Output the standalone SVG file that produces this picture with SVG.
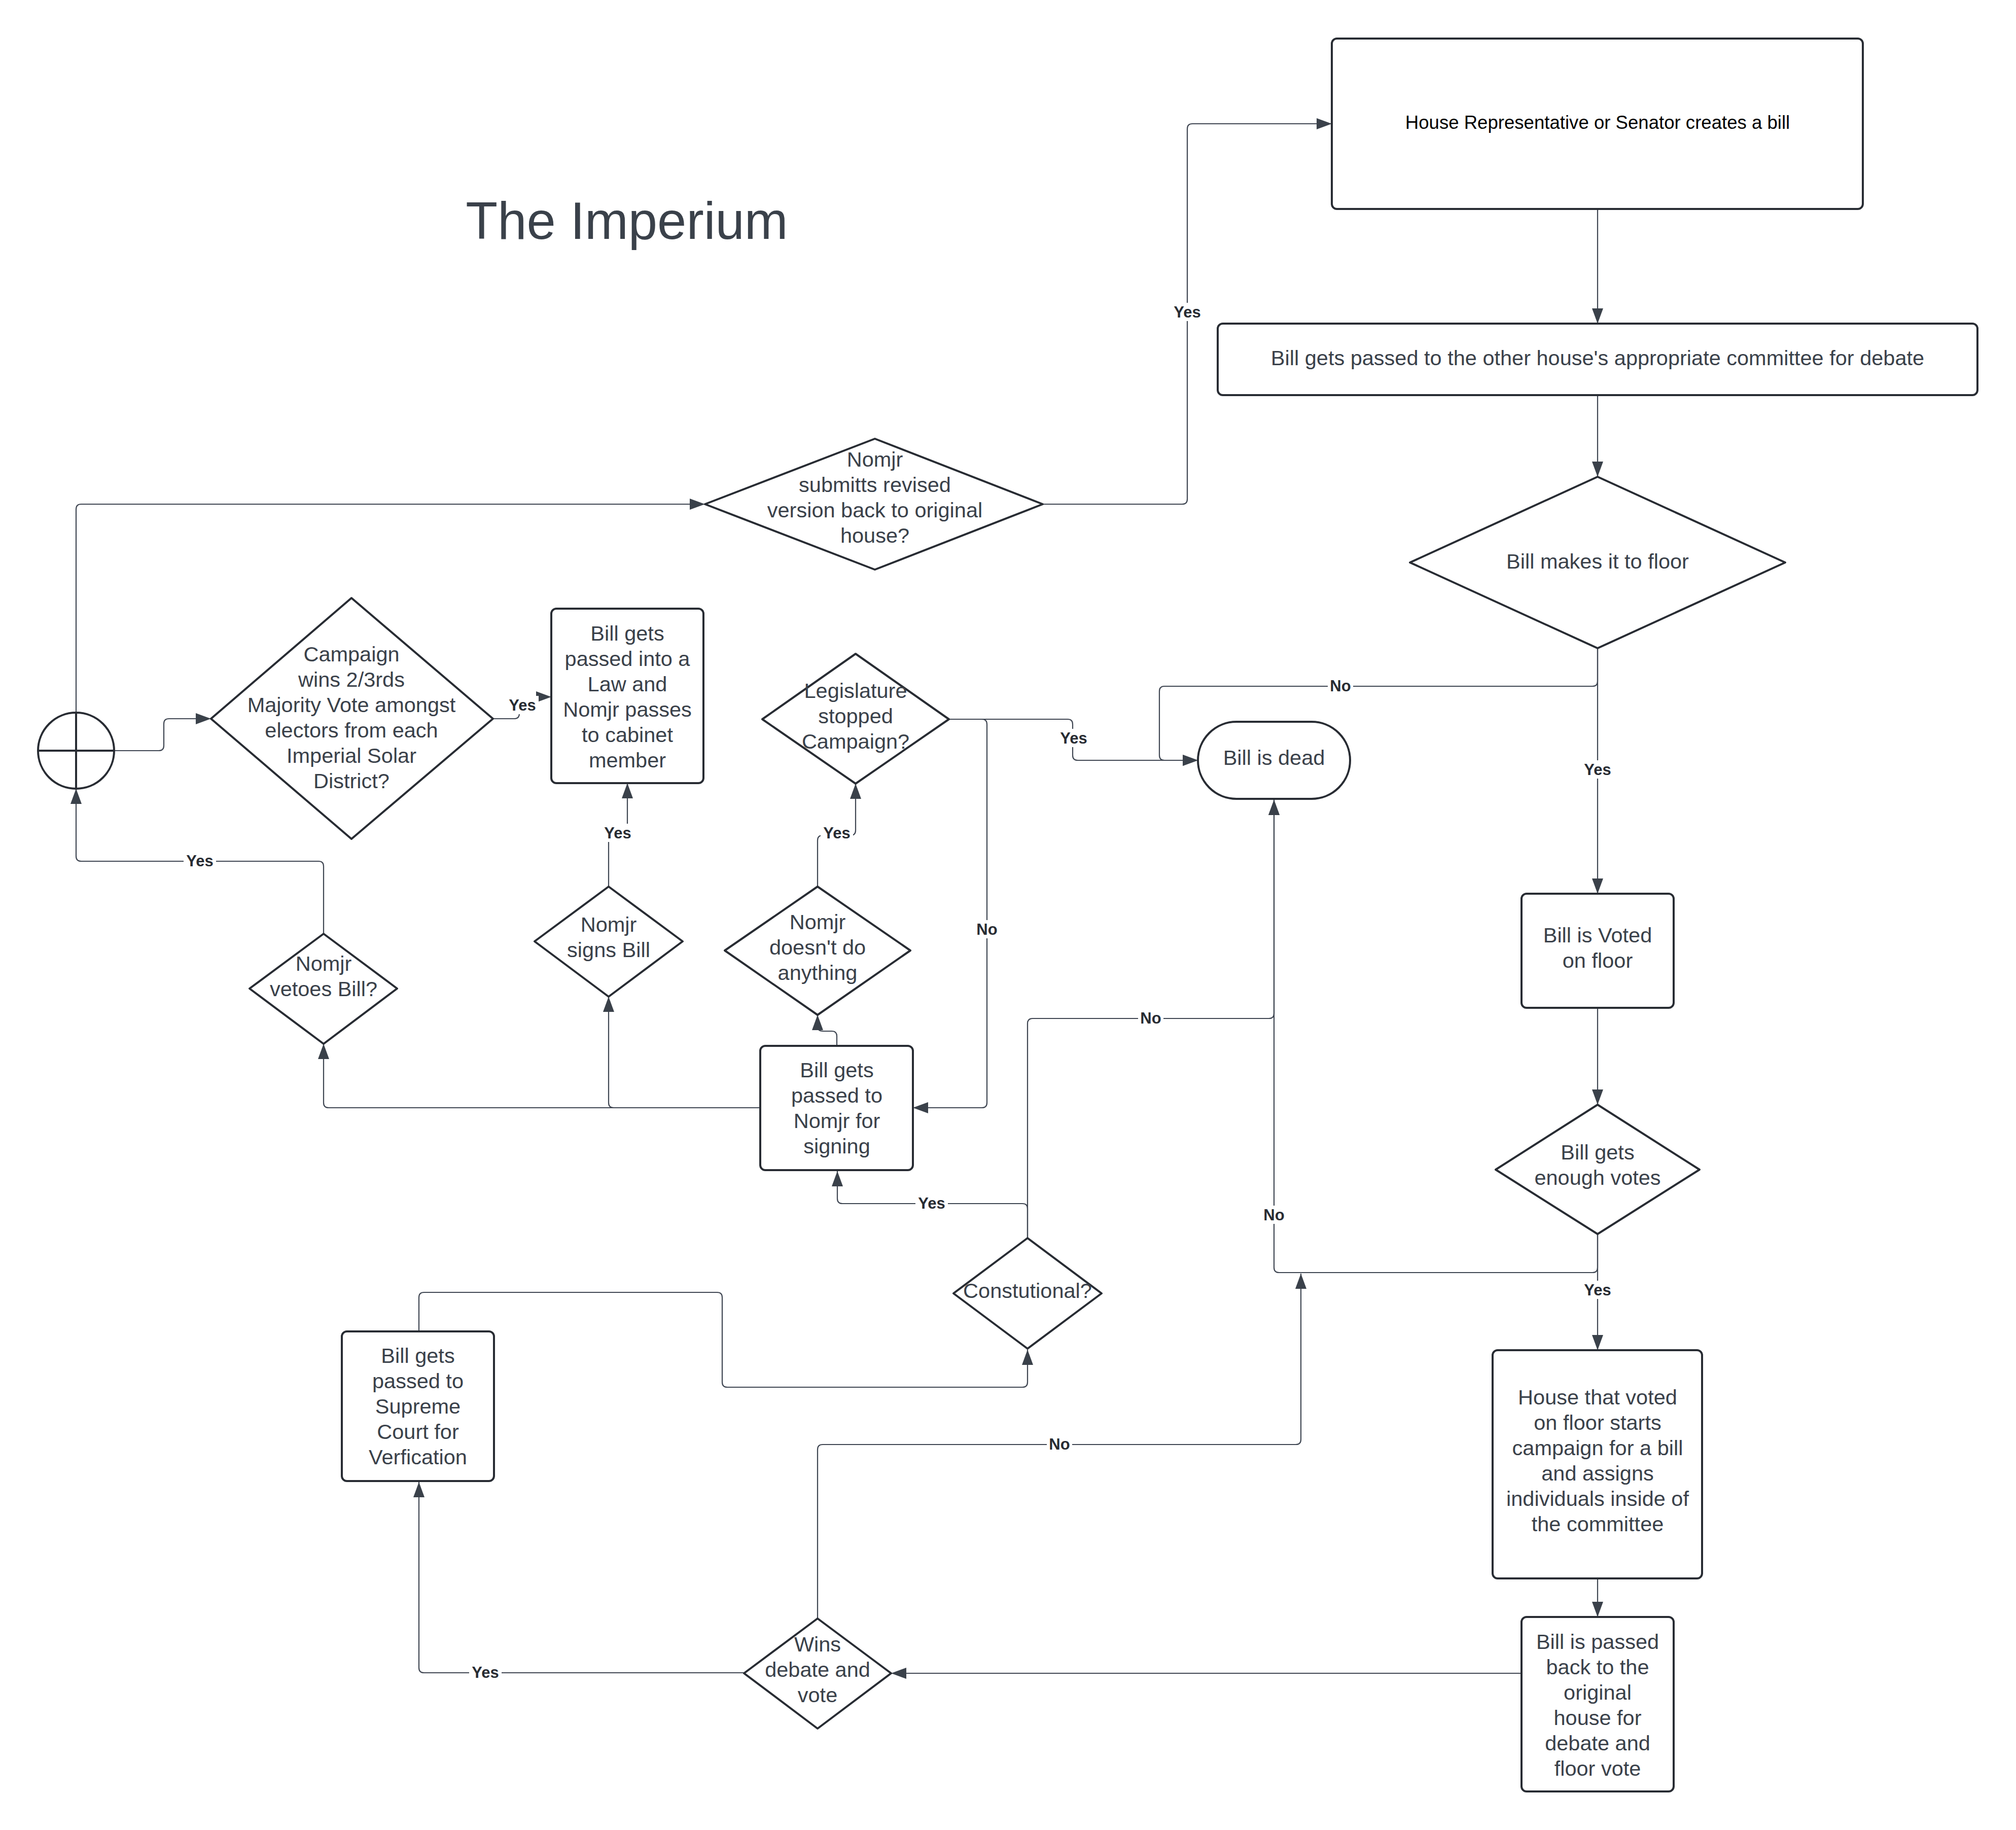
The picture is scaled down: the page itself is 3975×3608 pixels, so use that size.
<svg xmlns="http://www.w3.org/2000/svg" width="3975" height="3608" viewBox="0 0 3975 3608">
<style>
.shape{fill:#ffffff;stroke:#282c33;stroke-width:4;stroke-linejoin:round}
.t{font-family:"Liberation Sans",Arial,sans-serif;font-size:41.5px;fill:#3a414a;text-anchor:middle}
.conn{fill:none;stroke:#3f4652;stroke-width:2.2;marker-end:url(#arr)}
.lbg{fill:#ffffff}
.lbl{font-family:"Liberation Sans",Arial,sans-serif;font-size:31px;font-weight:700;fill:#282c33;text-anchor:middle}
</style>
<defs>
<marker id="arr" viewBox="0 0 30 22" refX="30" refY="11" markerWidth="30" markerHeight="22" markerUnits="userSpaceOnUse" orient="auto">
<path d="M0,0 L30,11 L0,22 z" fill="#3a414a"/>
</marker>
</defs>
<rect width="3975" height="3608" fill="#ffffff"/>
<text x="1236" y="471" style="font-family:'Liberation Sans',Arial,sans-serif;font-size:103px;fill:#3a414a;text-anchor:middle">The Imperium</text>

<g id="connectors">
<path class="conn" d="M3150,412 V638"/>
<path class="conn" d="M3150,779 V940"/>
<path class="conn" d="M3150,1278 V1762"/>
<path class="conn" d="M3150,1278 V1343 Q3150,1353 3140,1353 H2296 Q2286,1353 2286,1363 V1489 Q2286,1499 2296,1499 H2362"/>
<path class="conn" d="M3150,1987 V2178"/>
<path class="conn" d="M3150,2433 V2662"/>
<path class="conn" d="M3150,2433 V2499 Q3150,2509 3140,2509 H2522 Q2512,2509 2512,2499 V1577"/>
<path class="conn" d="M3150,3112 V3188"/>
<path class="conn" d="M3000,3299 H1757"/>
<path class="conn" d="M1467,3298 H836 Q826,3298 826,3288 V2922"/>
<path class="conn" d="M1612,3191 V2858 Q1612,2848 1622,2848 H2555 Q2565,2848 2565,2838 V2511"/>
<path class="conn" d="M826,2625 V2558 Q826,2548 836,2548 H1414 Q1424,2548 1424,2558 V2725 Q1424,2735 1434,2735 H2016 Q2026,2735 2026,2725 V2661"/>
<path class="conn" d="M2026,2441 V2383 Q2026,2373 2016,2373 H1661 Q1651,2373 1651,2363 V2309"/>
<path class="conn" d="M2026,2441 V2018 Q2026,2008 2036,2008 H2502 Q2512,2008 2512,1998 V1577"/>
<path class="conn" d="M1650,2062 V2043 Q1650,2033 1640,2033 H1622 Q1612,2033 1612,2023 V2001"/>
<path class="conn" d="M1612,1748 V1657 Q1612,1647 1622,1647 H1677 Q1687,1647 1687,1637 V1545"/>
<path class="conn" d="M1871,1418 H2105 Q2115,1418 2115,1428 V1489 Q2115,1499 2125,1499 H2362"/>
<path class="conn" d="M1871,1418 H1936 Q1946,1418 1946,1428 V2174 Q1946,2184 1936,2184 H1800"/>
<path class="conn" d="M1499,2184 H1210 Q1200,2184 1200,2174 V1965"/>
<path class="conn" d="M1499,2184 H648 Q638,2184 638,2174 V2058"/>
<path class="conn" d="M1200,1748 V1652 Q1200,1642 1210,1642 H1227 Q1237,1642 1237,1632 V1544"/>
<path class="conn" d="M638,1841 V1708 Q638,1698 628,1698 H160 Q150,1698 150,1688 V1555"/>
<path class="conn" d="M225,1480 H313 Q323,1480 323,1470 V1427 Q323,1417 333,1417 H416"/>
<path class="conn" d="M972,1417 H1014 Q1024,1417 1024,1407 V1384 Q1024,1374 1034,1374 H1087"/>
<path class="conn" d="M150,1405 V1004 Q150,994 160,994 H1390"/>
<path class="conn" d="M2056,994 H2331 Q2341,994 2341,984 V254 Q2341,244 2351,244 H2626"/>
<g id="labels">
<rect class="lbg" x="2309" y="597" width="64" height="36"/><text class="lbl" x="2341" y="626">Yes</text>
<rect class="lbg" x="3118" y="1499" width="64" height="36"/><text class="lbl" x="3150" y="1528">Yes</text>
<rect class="lbg" x="2618" y="1334" width="50" height="36"/><text class="lbl" x="2643" y="1363">No</text>
<rect class="lbg" x="3118" y="2525" width="64" height="36"/><text class="lbl" x="3150" y="2554">Yes</text>
<rect class="lbg" x="2487" y="2377" width="50" height="36"/><text class="lbl" x="2512" y="2406">No</text>
<rect class="lbg" x="925" y="3279" width="64" height="36"/><text class="lbl" x="957" y="3308">Yes</text>
<rect class="lbg" x="2064" y="2829" width="50" height="36"/><text class="lbl" x="2089" y="2858">No</text>
<rect class="lbg" x="1805" y="2354" width="64" height="36"/><text class="lbl" x="1837" y="2383">Yes</text>
<rect class="lbg" x="2244" y="1989" width="50" height="36"/><text class="lbl" x="2269" y="2018">No</text>
<rect class="lbg" x="1618" y="1624" width="64" height="36"/><text class="lbl" x="1650" y="1653">Yes</text>
<rect class="lbg" x="2085" y="1437" width="64" height="36"/><text class="lbl" x="2117" y="1466">Yes</text>
<rect class="lbg" x="1921" y="1814" width="50" height="36"/><text class="lbl" x="1946" y="1843">No</text>
<rect class="lbg" x="1186" y="1624" width="64" height="36"/><text class="lbl" x="1218" y="1653">Yes</text>
<rect class="lbg" x="362" y="1679" width="64" height="36"/><text class="lbl" x="394" y="1708">Yes</text>
<rect class="lbg" x="998" y="1372" width="64" height="36"/><text class="lbl" x="1030" y="1401">Yes</text>
</g>
</g>

<g id="nodeA">
<rect class="shape" x="2626" y="76" width="1047" height="336" rx="10"/>
<text class="t" x="3150" y="254" style="font-size:36.6px;fill:#000000">House Representative or Senator creates a bill</text>
</g>
<g id="nodeB">
<rect class="shape" x="2401" y="638" width="1498" height="141" rx="10"/>
<text class="t" x="3150" y="720">Bill gets passed to the other house's appropriate committee for debate</text>
</g>
<g id="nodeC">
<polygon class="shape" points="3150,940 3520,1109 3150,1278 2780,1109"/>
<text class="t" x="3150" y="1121">Bill makes it to floor</text>
</g>
<g id="nodeD">
<rect class="shape" x="2362" y="1423" width="300" height="152" rx="76"/>
<text class="t" x="2512" y="1508">Bill is dead</text>
</g>
<g id="nodeE">
<rect class="shape" x="3000" y="1762" width="300" height="225" rx="10"/>
<text class="t" x="3150" y="1858">Bill is Voted</text>
<text class="t" x="3150" y="1908">on floor</text>
</g>
<g id="nodeF">
<polygon class="shape" points="3150,2178 3351,2306 3150,2433 2949,2306"/>
<text class="t" x="3150" y="2286">Bill gets</text>
<text class="t" x="3150" y="2336">enough votes</text>
</g>
<g id="nodeG">
<rect class="shape" x="2943" y="2662" width="413" height="450" rx="10"/>
<text class="t" x="3150" y="2769">House that voted</text>
<text class="t" x="3150" y="2819">on floor starts</text>
<text class="t" x="3150" y="2869">campaign for a bill</text>
<text class="t" x="3150" y="2919">and assigns</text>
<text class="t" x="3150" y="2969">individuals inside of</text>
<text class="t" x="3150" y="3019">the committee</text>
</g>
<g id="nodeH">
<rect class="shape" x="3000" y="3188" width="300" height="344" rx="10"/>
<text class="t" x="3150" y="3251">Bill is passed</text>
<text class="t" x="3150" y="3301">back to the</text>
<text class="t" x="3150" y="3351">original</text>
<text class="t" x="3150" y="3401">house for</text>
<text class="t" x="3150" y="3451">debate and</text>
<text class="t" x="3150" y="3501">floor vote</text>
</g>
<g id="nodeI">
<polygon class="shape" points="1612,3191 1757,3299 1612,3408 1467,3299"/>
<text class="t" x="1612" y="3256">Wins</text>
<text class="t" x="1612" y="3306">debate and</text>
<text class="t" x="1612" y="3356">vote</text>
</g>
<g id="nodeJ">
<rect class="shape" x="674" y="2625" width="300" height="295" rx="10"/>
<text class="t" x="824" y="2687">Bill gets</text>
<text class="t" x="824" y="2737">passed to</text>
<text class="t" x="824" y="2787">Supreme</text>
<text class="t" x="824" y="2837">Court for</text>
<text class="t" x="824" y="2887">Verfication</text>
</g>
<g id="nodeK">
<polygon class="shape" points="2026,2441 2172,2550 2026,2659 1880,2550"/>
<text class="t" x="2026" y="2559">Constutional?</text>
</g>
<g id="nodeL">
<rect class="shape" x="1499" y="2062" width="301" height="245" rx="10"/>
<text class="t" x="1650" y="2124">Bill gets</text>
<text class="t" x="1650" y="2174">passed to</text>
<text class="t" x="1650" y="2224">Nomjr for</text>
<text class="t" x="1650" y="2274">signing</text>
</g>
<g id="nodeM">
<polygon class="shape" points="1612,1748 1795,1874 1612,2001 1429,1874"/>
<text class="t" x="1612" y="1832">Nomjr</text>
<text class="t" x="1612" y="1882">doesn't do</text>
<text class="t" x="1612" y="1932">anything</text>
</g>
<g id="nodeN">
<polygon class="shape" points="1687,1289 1871,1418 1687,1545 1503,1418"/>
<text class="t" x="1687" y="1376">Legislature</text>
<text class="t" x="1687" y="1426">stopped</text>
<text class="t" x="1687" y="1476">Campaign?</text>
</g>
<g id="nodeO">
<polygon class="shape" points="1200,1748 1346,1856 1200,1965 1054,1856"/>
<text class="t" x="1200" y="1837">Nomjr</text>
<text class="t" x="1200" y="1887">signs Bill</text>
</g>
<g id="nodeP">
<rect class="shape" x="1087" y="1200" width="300" height="344" rx="10"/>
<text class="t" x="1237" y="1263">Bill gets</text>
<text class="t" x="1237" y="1313">passed into a</text>
<text class="t" x="1237" y="1363">Law and</text>
<text class="t" x="1237" y="1413">Nomjr passes</text>
<text class="t" x="1237" y="1463">to cabinet</text>
<text class="t" x="1237" y="1513">member</text>
</g>
<g id="nodeQ">
<polygon class="shape" points="638,1841 783,1949 638,2058 492,1949"/>
<text class="t" x="638" y="1914">Nomjr</text>
<text class="t" x="638" y="1964">vetoes Bill?</text>
</g>
<g id="nodeR">
<polygon class="shape" points="693,1179 972,1417 693,1654 416,1417"/>
<text class="t" x="693" y="1304">Campaign</text>
<text class="t" x="693" y="1354">wins 2/3rds</text>
<text class="t" x="693" y="1404">Majority Vote amongst</text>
<text class="t" x="693" y="1454">electors from each</text>
<text class="t" x="693" y="1504">Imperial Solar</text>
<text class="t" x="693" y="1554">District?</text>
</g>
<g id="nodeS">
<circle class="shape" cx="150" cy="1480" r="75"/>
<path d="M75,1480 H225 M150,1405 V1555" stroke="#282c33" stroke-width="4" fill="none"/>
</g>
<g id="nodeT">
<polygon class="shape" points="1725,865 2056,994 1725,1123 1390,994"/>
<text class="t" x="1725" y="920">Nomjr</text>
<text class="t" x="1725" y="970">submitts revised</text>
<text class="t" x="1725" y="1020">version back to original</text>
<text class="t" x="1725" y="1070">house?</text>
</g>
</svg>
